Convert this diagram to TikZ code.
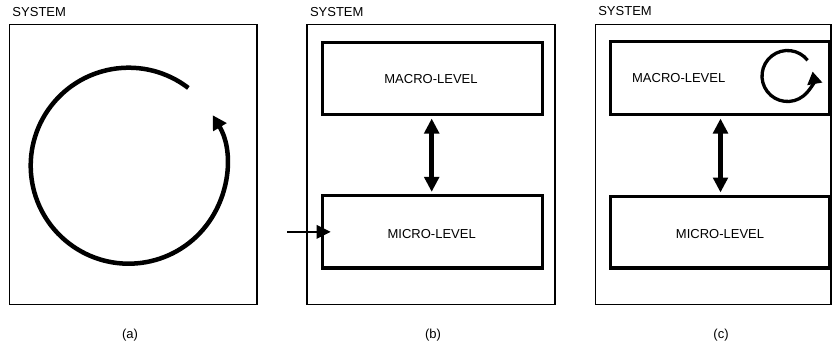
\documentclass[tikz,border=0pt]{standalone}
\usepackage{fontspec}
\setmainfont{Liberation Sans}
\usetikzlibrary{arrows.meta}
\begin{document}
\begin{tikzpicture}[x=1pt,y=1pt,
  lbl/.style={font=\fontsize{13}{15}\selectfont, inner sep=0pt, outer sep=0pt},
  sysbox/.style={draw, line width=1.5pt, inner sep=0pt, outer sep=0pt,
    minimum height=280pt},
  lvlbox/.style={draw, line width=3.2pt, inner sep=0pt, outer sep=0pt},
  bigloop/.style={line width=4.5pt, -{Triangle[length=14pt,width=15pt]}},
  smallloop/.style={line width=3.3pt, -{Triangle[length=12.5pt,width=14.5pt]}},
  dbl/.style={line width=4.7pt, {Triangle[length=15pt,width=14.5pt]}-{Triangle[length=15pt,width=14.5pt]},
    shorten >=3.8pt, shorten <=3.8pt},
  inarrow/.style={line width=1.8pt, -{Triangle[length=14pt,width=13.5pt]}}
]
\useasboundingbox (0,0) rectangle (832,346);

% ---------- panel (a)
\node[sysbox, minimum width=247.7pt] (sysA) at (133.15,181.7) {};
\node[lbl, anchor=base west] (tA) at (12.5,329.3) {SYSTEM};
\draw[bigloop] (128.7,180.3) ++(52.5:98) arc[start angle=52.5, end angle=391, radius=98];
\node[lbl] (capA) at (130,11) {(a)};

% ---------- panel (b)
\node[sysbox, minimum width=248pt] (sysB) at (431,181.7) {};
\node[lbl, anchor=base west] (tB) at (310,329.3) {SYSTEM};
\node[lvlbox, minimum width=220.3pt, minimum height=72.5pt] (macB) at (432.35,267.55) {};
\node[lbl, anchor=base] (macBt) at (431,262.7) {MACRO-LEVEL};
\node[lvlbox, minimum width=220.3pt, minimum height=72.3pt] (micB) at (432.35,114.15) {};
\node[lbl, anchor=base] (micBt) at (431.7,107.7) {MICRO-LEVEL};
\draw[dbl] (macB.south -| 431.7,0) -- (micB.north -| 431.7,0);
\coordinate (inB) at (287,114.15);
\draw[inarrow] (inB) -- ([xshift=8.5pt]micB.west);
\node[lbl] (capB) at (433,11) {(b)};

% ---------- panel (c)
\node[sysbox, minimum width=235.3pt] (sysC) at (713.15,181.7) {};
\node[lbl, anchor=base west] (tC) at (598.3,330.3) {SYSTEM};
\node[lvlbox, minimum width=219.7pt, minimum height=73.4pt] (macC) at (720.15,268) {};
\node[lbl, anchor=base] (macCt) at (678.7,263.7) {MACRO-LEVEL};
\draw[smallloop] (787.5,270) ++(38:25.5) arc[start angle=38, end angle=370, radius=25.5];
\node[lvlbox, minimum width=219.7pt, minimum height=71.7pt] (micC) at (720.15,113.85) {};
\node[lbl, anchor=base] (micCt) at (720,107.7) {MICRO-LEVEL};
\draw[dbl] (macC.south -| 720.5,0) -- (micC.north -| 720.5,0);
\node[lbl] (capC) at (721,11) {(c)};
\end{tikzpicture}
\end{document}
